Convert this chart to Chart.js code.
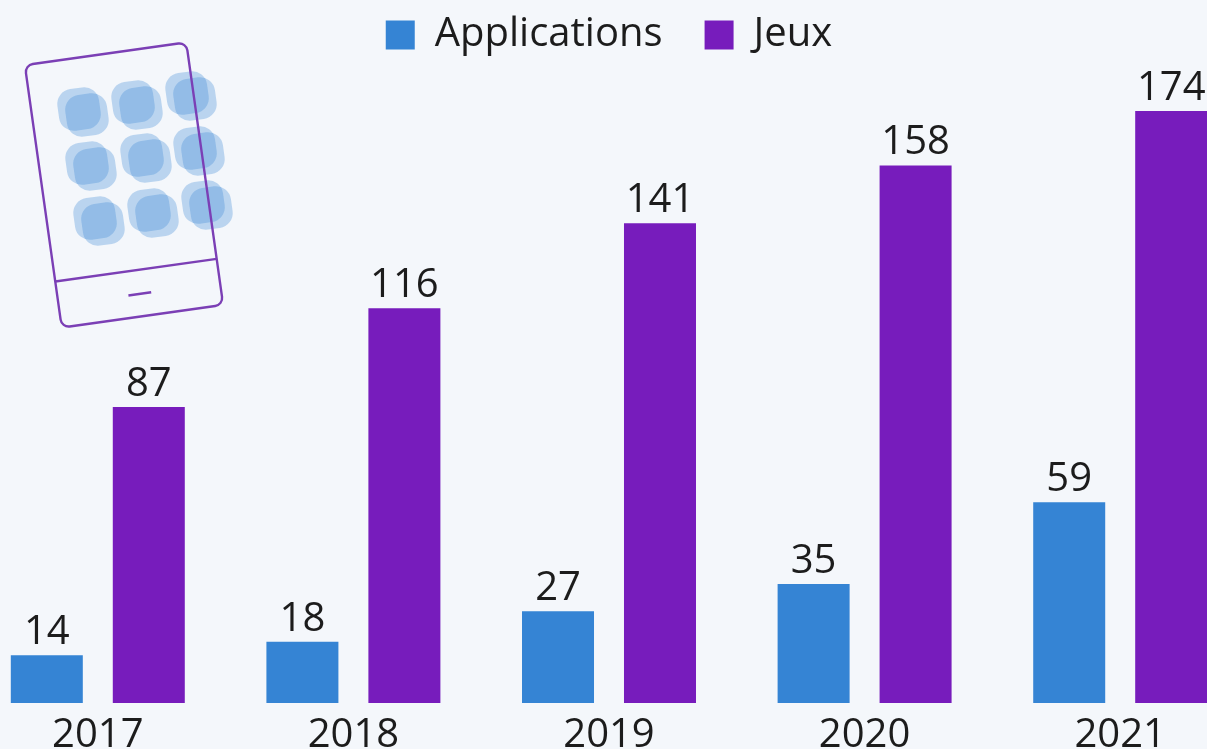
<!DOCTYPE html>
<html lang="fr">
<head>
<meta charset="utf-8">
<title>Applications et jeux</title>
<script src="https://cdn.jsdelivr.net/npm/chart.js@4"></script>
<style>
    html, body { margin: 0; height: 100%; overflow: hidden; background: #f4f7fb; }
    #wrap { position: relative; width: 1207px; height: 749px; overflow: hidden; }
    /* the last category is cut by the right edge in the source, so the canvas is wider than the page */
    #chart { position: absolute; left: -30px; top: -27px; }
    #tablet { position: absolute; left: 0; top: 0; }
</style>
</head>
<body>
<div id="wrap">
    <canvas id="chart" width="1278" height="788"></canvas>
    <svg id="tablet" width="250" height="340" viewBox="0 0 250 340">
        <g id="apps" fill="#3584d4" fill-opacity="0.3"></g>
        <g fill="none" stroke="#7b3fb5" stroke-width="2.4" transform="rotate(-8 124 185)">
            <rect x="42.5" y="52.5" width="163" height="265" rx="8"></rect>
            <line x1="42.5" y1="271" x2="205.5" y2="271"></line>
            <line x1="113" y1="295" x2="136" y2="295"></line>
        </g>
    </svg>
</div>
<script>
    var years = ['2017', '2018', '2019', '2020', '2021'];
    var applications = [14, 18, 27, 35, 59];
    var jeux = [87, 116, 141, 158, 174];

    var textColor = '#1c1c1c';
    var fontFamily = '"Open Sans", sans-serif';

    // Decorative app icons on the tablet.
    var iconCentres = [[83, 112], [137, 105], [191, 96], [91, 166], [146, 158], [199, 151], [99, 221], [153, 213], [207, 205]];
    var appsGroup = document.getElementById('apps');
    iconCentres.forEach(function (c) {
        [[-3.5, -3.5], [3.5, 3.5]].forEach(function (o) {
            var r = document.createElementNS('http://www.w3.org/2000/svg', 'rect');
            r.setAttribute('x', c[0] + o[0] - 21);
            r.setAttribute('y', c[1] + o[1] - 21);
            r.setAttribute('width', 42);
            r.setAttribute('height', 42);
            r.setAttribute('rx', 15);
            r.setAttribute('transform', 'rotate(-8 ' + c[0] + ' ' + c[1] + ')');
            appsGroup.appendChild(r);
        });
    });

    // Value labels above the bars.
    var barLabels = {
        id: 'barLabels',
        afterDatasetsDraw: function (chart) {
            var ctx = chart.ctx;
            ctx.save();
            ctx.font = '40px ' + fontFamily;
            ctx.fillStyle = textColor;
            ctx.textAlign = 'center';
            ctx.textBaseline = 'alphabetic';
            chart.data.datasets.forEach(function (ds, i) {
                chart.getDatasetMeta(i).data.forEach(function (bar, j) {
                    ctx.fillText(ds.data[j], bar.x, bar.y - 11);
                });
            });
            ctx.restore();
        }
    };

    new Chart(document.getElementById('chart'), {
        type: 'bar',
        data: {
            labels: years,
            datasets: [{
                label: 'Applications',
                data: applications,
                backgroundColor: '#3584d4'
            }, {
                label: 'Jeux',
                data: jeux,
                backgroundColor: '#771cbc'
            }]
        },
        plugins: [barLabels],
        options: {
            responsive: false,
            animation: false,
            devicePixelRatio: 1,
            layout: { padding: 0 },
            datasets: {
                bar: { barPercentage: 0.706, categoryPercentage: 0.798 }
            },
            plugins: {
                legend: {
                    position: 'top',
                    labels: {
                        boxWidth: 29,
                        boxHeight: 29,
                        padding: 42,
                        color: textColor,
                        font: { family: fontFamily, size: 40 }
                    }
                },
                tooltip: { enabled: false }
            },
            scales: {
                x: {
                    grid: { display: false },
                    border: { display: false },
                    ticks: {
                        color: textColor,
                        padding: 1,
                        maxRotation: 0,
                        font: { family: fontFamily, size: 40 }
                    }
                },
                y: {
                    display: false,
                    min: 0,
                    max: 187.5
                }
            }
        }
    });
</script>
</body>
</html>
